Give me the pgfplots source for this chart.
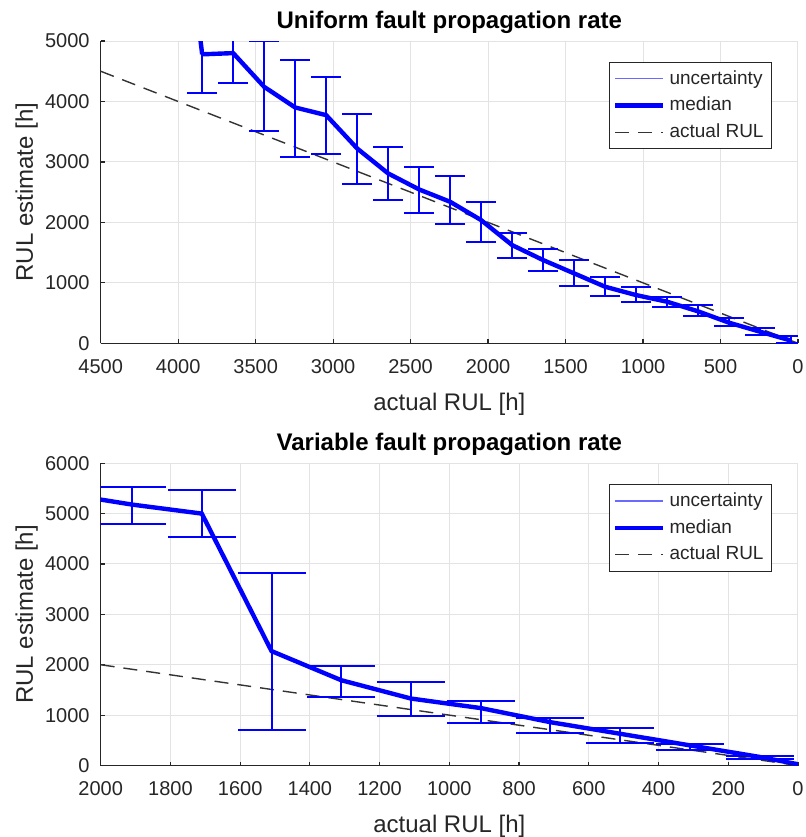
\documentclass[border=0pt]{standalone}
\usepackage{fontspec}
\setmainfont{Liberation Sans}
\usepackage{pgfplots}
\usepackage{pgfplotstable}
\pgfplotsset{compat=1.18}

\definecolor{axgray}{HTML}{262626}
\definecolor{gridgray}{HTML}{E3E3E3}
\definecolor{medblue}{HTML}{0000FF}
\definecolor{lightblue}{HTML}{6A6AFF}
\definecolor{dashgray}{HTML}{333333}

% x = actual RUL, med = median estimate, lo/hi = uncertainty bounds
\pgfplotstableread{
x    med  lo   hi
3845 4780 4142 5600
3645 4800 4298 5300
3445 4242 3509 5000
3245 3901 3079 4694
3045 3774 3129 4407
2845 3223 2628 3790
2645 2810 2364 3240
2445 2545 2149 2914
2245 2341 1967 2765
2045 2038 1669 2331
1845 1625 1405 1828
1645 1377 1195 1559
1445 1157  952 1377
1245  936  787 1101
1045  798  688  926
845   688  605  760
645   529  456  628
445   341  286  413
245   192  137  248
45     45    0  126
}\uniform

\pgfplotstableread{
x    med  lo   hi
1910 5179 4801 5532
1710 5000 4536 5464
1510 2271  697 3831
1310 1693 1361 1972
1110 1329  982 1660
910  1140  842 1273
710   860  654  943
510   630  452  748
310   400  317  418
110   170  129  196
}\variable

\pgfplotsset{
  rulaxis/.style={
    width=348.65pt, height=151.15pt, scale only axis,
    anchor=south west,
    x dir=reverse,
    axis x line*=bottom, axis y line*=left,
    axis line style={axgray, line width=0.6pt, -},
    tick align=inside, major tick length=2pt,
    tick style={axgray, line width=0.6pt},
    grid=major, major grid style={gridgray, line width=0.5pt},
    tick label style={font=\fontsize{10}{12}\selectfont, text=axgray},
    xticklabel style={anchor=base, yshift=-15pt},
    yticklabel style={anchor=east, inner sep=0pt, xshift=-5.35pt},
    /pgf/number format/assume math mode=true,
    /pgf/number format/1000 sep={},
    scaled ticks=false,
    xlabel={actual RUL [h]}, ylabel={RUL estimate [h]},
    label style={font=\fontsize{12}{14}\selectfont, text=axgray},
    xlabel style={at={(axis description cs:0.5,-0.2216)}, anchor=base},
    ylabel style={at={(axis description cs:-0.0971,0.5)}, anchor=base},
    every axis title shift=0pt,
    title style={at={(axis description cs:0.5,1.043)}, anchor=base,
      font=\fontsize{12}{14}\selectfont\bfseries},
    legend style={at={(axis description cs:0.9627,0.9305)}, anchor=north east,
      draw=axgray, fill=white, font=\fontsize{9.5}{11}\selectfont, text=axgray,
      inner xsep=2pt, inner ysep=2pt, row sep=1pt},
    legend cell align=left,
    legend image code/.code={\draw[##1] (0pt,0pt) -- (24pt,0pt);},
  },
  barplot/.style={draw=medblue, line width=2.2pt, forget plot,
    error bars/.cd, y dir=both, y explicit,
    error bar style={draw=medblue, line width=1pt},
    error mark options={rotate=90, draw=medblue, line width=1pt, mark size=#1}},
  medplot/.style={draw=medblue, line width=2.2pt, forget plot},
  actplot/.style={draw=dashgray, line width=0.7pt, dash pattern=on 7pt off 4.5pt, forget plot},
}

\begin{document}
\begin{tikzpicture}
\begin{axis}[rulaxis, at={(50.35pt,-171.65pt)},
  title={Uniform fault propagation rate},
  xmin=0, xmax=4500, ymin=0, ymax=5000,
  xtick={0,500,...,4500}, ytick={0,1000,...,5000}]
  \addplot[actplot] coordinates {(4500,4500) (0,0)};
  \addplot[barplot=7.5pt] table[x=x, y=med,
    y error plus expr=\thisrow{hi}-\thisrow{med},
    y error minus expr=\thisrow{med}-\thisrow{lo}] {\uniform};
  \addplot[medplot] coordinates {(4045,9000) (3845,4780)};
  \addlegendimage{draw=lightblue, line width=0.55pt}
  \addlegendentry{uncertainty}
  \addlegendimage{draw=medblue, line width=2.2pt}
  \addlegendentry{median}
  \addlegendimage{draw=dashgray, line width=0.7pt, dash pattern=on 7pt off 4.5pt}
  \addlegendentry{actual RUL}
\end{axis}

\begin{axis}[rulaxis, at={(50.35pt,-382.75pt)},
  title={Variable fault propagation rate},
  xmin=0, xmax=2000, ymin=0, ymax=6000,
  xtick={0,200,...,2000}, ytick={0,1000,...,6000}]
  \addplot[actplot] coordinates {(2000,2000) (0,0)};
  \addplot[barplot=17pt] table[x=x, y=med,
    y error plus expr=\thisrow{hi}-\thisrow{med},
    y error minus expr=\thisrow{med}-\thisrow{lo}] {\variable};
  \addplot[medplot] coordinates {(2110,5400) (1910,5179)};
  \addplot[medplot] coordinates {(110,170) (0,25)};
  \addlegendimage{draw=lightblue, line width=0.55pt}
  \addlegendentry{uncertainty}
  \addlegendimage{draw=medblue, line width=2.2pt}
  \addlegendentry{median}
  \addlegendimage{draw=dashgray, line width=0.7pt, dash pattern=on 7pt off 4.5pt}
  \addlegendentry{actual RUL}
\end{axis}
\pgfresetboundingbox
\path[use as bounding box] (0pt,0pt) rectangle (402.5pt,-418.5pt);
\end{tikzpicture}
\end{document}
